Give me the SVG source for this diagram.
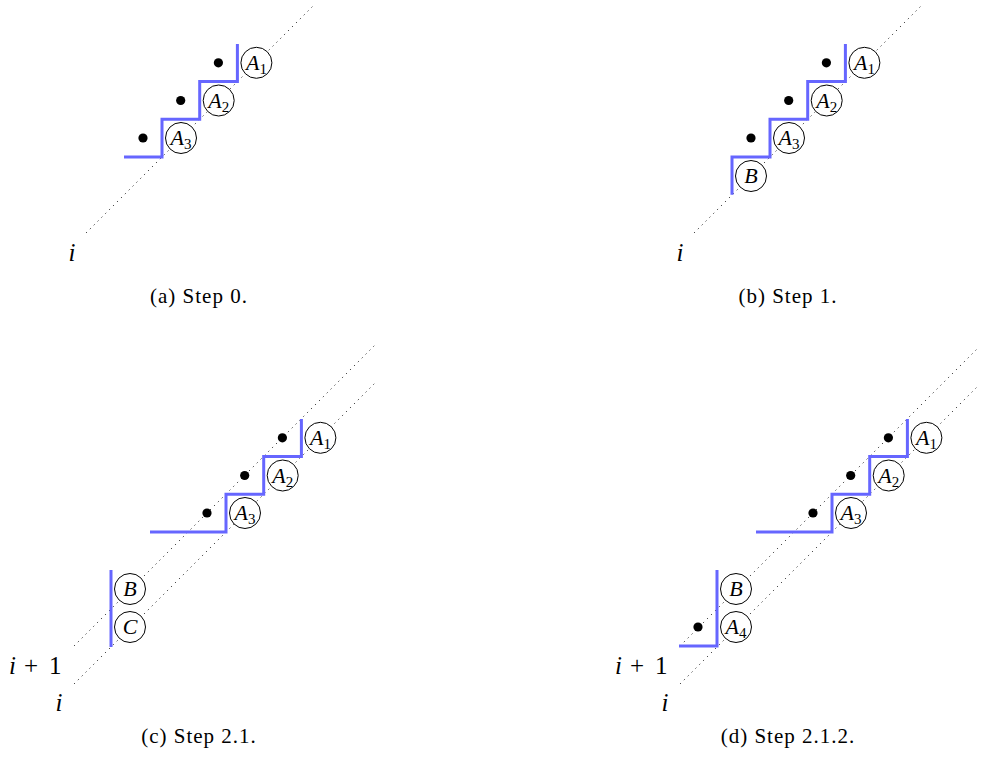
<svg xmlns="http://www.w3.org/2000/svg" width="981" height="769" viewBox="0 0 981 769">
<style>
.bg{fill:#fff}
.dl{stroke:#000;stroke-width:1;stroke-dasharray:1 4.5;fill:none}
.bl{stroke:#6666ff;stroke-width:3;fill:none;stroke-linejoin:miter}
.dot{fill:#000}
.cn{fill:#fff;stroke:#000;stroke-width:1}
.lb{font-family:"Liberation Serif",serif;font-style:italic;font-size:22px;fill:#000;text-anchor:middle}
.sb{font-style:normal;font-size:15px}
.ml{font-family:"Liberation Serif",serif;font-size:25px;fill:#000}
.it{font-style:italic}
.cap{font-family:"Liberation Serif",serif;font-size:21px;letter-spacing:1px;fill:#000;text-anchor:middle}
</style>
<rect class="bg" width="981" height="769"/>

<!-- Panel (a) -->
<g id="panel-a">
  <g id="a-connectors">
    <line class="dl" x1="86" y1="233" x2="313" y2="6"/>
    <path class="bl" d="M124,157 H162 V119.3 H199.7 V81.6 H237.4 V44"/>
  </g>
  <g id="a-dots">
    <circle class="dot" cx="143" cy="138" r="4.6"/>
    <circle class="dot" cx="180.7" cy="100.5" r="4.6"/>
    <circle class="dot" cx="218.4" cy="62.8" r="4.6"/>
  </g>
  <g id="a-A3"><circle class="cn" cx="181" cy="138" r="15.5"/><text class="lb" x="181" y="145">A<tspan class="sb" dy="4">3</tspan></text></g>
  <g id="a-A2"><circle class="cn" cx="218.7" cy="100.5" r="15.5"/><text class="lb" x="218.7" y="107.5">A<tspan class="sb" dy="4">2</tspan></text></g>
  <g id="a-A1"><circle class="cn" cx="256.4" cy="62.8" r="15.5"/><text class="lb" x="256.4" y="69.8">A<tspan class="sb" dy="4">1</tspan></text></g>
  <text class="ml it" x="72" y="261" text-anchor="middle">i</text>
  <text class="cap" x="199" y="303">(a) Step 0.</text>
</g>

<!-- Panel (b) -->
<g id="panel-b">
  <g id="b-connectors">
    <line class="dl" x1="694" y1="233" x2="921" y2="6"/>
    <path class="bl" d="M732,194.7 V157 H770 V119.3 H807.7 V81.6 H845.4 V44"/>
  </g>
  <g id="b-dots">
    <circle class="dot" cx="751" cy="138" r="4.6"/>
    <circle class="dot" cx="788.7" cy="100.5" r="4.6"/>
    <circle class="dot" cx="826.4" cy="62.8" r="4.6"/>
  </g>
  <g id="b-B"><circle class="cn" cx="751" cy="176" r="15.5"/><text class="lb" x="751" y="183">B</text></g>
  <g id="b-A3"><circle class="cn" cx="789" cy="138" r="15.5"/><text class="lb" x="789" y="145">A<tspan class="sb" dy="4">3</tspan></text></g>
  <g id="b-A2"><circle class="cn" cx="826.7" cy="100.5" r="15.5"/><text class="lb" x="826.7" y="107.5">A<tspan class="sb" dy="4">2</tspan></text></g>
  <g id="b-A1"><circle class="cn" cx="864.4" cy="62.8" r="15.5"/><text class="lb" x="864.4" y="69.8">A<tspan class="sb" dy="4">1</tspan></text></g>
  <text class="ml it" x="680" y="261" text-anchor="middle">i</text>
  <text class="cap" x="788" y="303">(b) Step 1.</text>
</g>

<!-- Panel (c) -->
<g id="panel-c">
  <g id="c-connectors">
    <line class="dl" x1="74" y1="646" x2="377" y2="343"/>
    <line class="dl" x1="74" y1="684" x2="377" y2="381"/>
    <path class="bl" d="M150,532 H226 V494.3 H263.7 V456.6 H301.4 V419"/>
    <path class="bl" d="M111,570 V647"/>
  </g>
  <g id="c-dots">
    <circle class="dot" cx="207" cy="513" r="4.6"/>
    <circle class="dot" cx="244.7" cy="475.5" r="4.6"/>
    <circle class="dot" cx="282.4" cy="437.8" r="4.6"/>
  </g>
  <g id="c-A3"><circle class="cn" cx="245" cy="513" r="15.5"/><text class="lb" x="245" y="520">A<tspan class="sb" dy="4">3</tspan></text></g>
  <g id="c-A2"><circle class="cn" cx="282.7" cy="475.5" r="15.5"/><text class="lb" x="282.7" y="482.5">A<tspan class="sb" dy="4">2</tspan></text></g>
  <g id="c-A1"><circle class="cn" cx="320.4" cy="437.8" r="15.5"/><text class="lb" x="320.4" y="444.8">A<tspan class="sb" dy="4">1</tspan></text></g>
  <g id="c-B"><circle class="cn" cx="130" cy="589" r="15.5"/><text class="lb" x="130" y="596">B</text></g>
  <g id="c-C"><circle class="cn" cx="130" cy="627" r="15.5"/><text class="lb" x="130" y="634">C</text></g>
  <text class="ml" y="674"><tspan class="it" x="9">i</tspan><tspan x="24">+</tspan><tspan x="49">1</tspan></text>
  <text class="ml it" x="59" y="711" text-anchor="middle">i</text>
  <text class="cap" x="199" y="743">(c) Step 2.1.</text>
</g>

<!-- Panel (d) -->
<g id="panel-d">
  <g id="d-connectors">
    <line class="dl" x1="680" y1="646" x2="979" y2="347"/>
    <line class="dl" x1="680" y1="684" x2="979" y2="385"/>
    <path class="bl" d="M756,532 H832 V494.3 H869.7 V456.6 H907.4 V419"/>
    <path class="bl" d="M717,570 V646 H679"/>
  </g>
  <g id="d-dots">
    <circle class="dot" cx="698" cy="627" r="4.6"/>
    <circle class="dot" cx="813" cy="513" r="4.6"/>
    <circle class="dot" cx="850.7" cy="475.5" r="4.6"/>
    <circle class="dot" cx="888.4" cy="437.8" r="4.6"/>
  </g>
  <g id="d-A3"><circle class="cn" cx="851" cy="513" r="15.5"/><text class="lb" x="851" y="520">A<tspan class="sb" dy="4">3</tspan></text></g>
  <g id="d-A2"><circle class="cn" cx="888.7" cy="475.5" r="15.5"/><text class="lb" x="888.7" y="482.5">A<tspan class="sb" dy="4">2</tspan></text></g>
  <g id="d-A1"><circle class="cn" cx="926.4" cy="437.8" r="15.5"/><text class="lb" x="926.4" y="444.8">A<tspan class="sb" dy="4">1</tspan></text></g>
  <g id="d-B"><circle class="cn" cx="736" cy="589" r="15.5"/><text class="lb" x="736" y="596">B</text></g>
  <g id="d-A4"><circle class="cn" cx="736" cy="627" r="15.5"/><text class="lb" x="736" y="634">A<tspan class="sb" dy="4">4</tspan></text></g>
  <text class="ml" y="674"><tspan class="it" x="615">i</tspan><tspan x="630">+</tspan><tspan x="655">1</tspan></text>
  <text class="ml it" x="665" y="711" text-anchor="middle">i</text>
  <text class="cap" x="788" y="743">(d) Step 2.1.2.</text>
</g>
</svg>
